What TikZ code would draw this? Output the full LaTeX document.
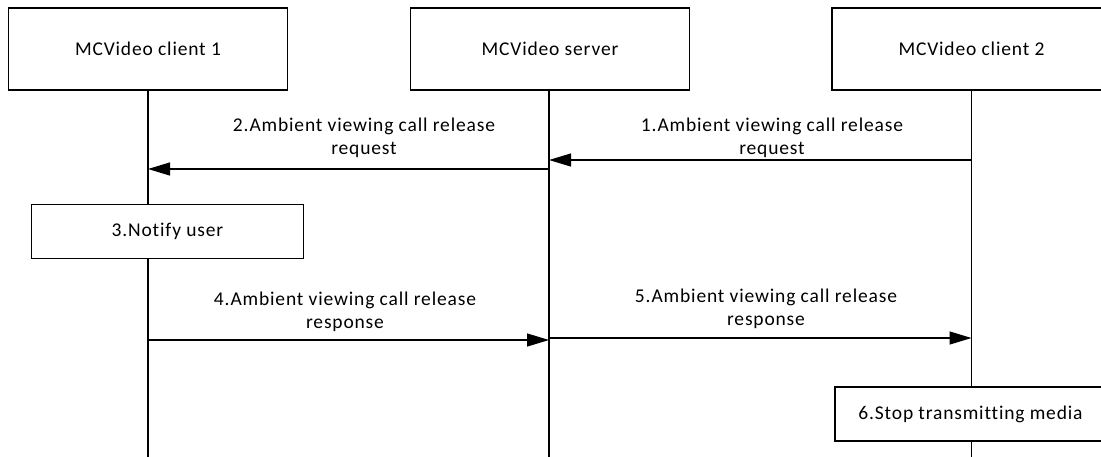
\documentclass[tikz,border=0pt]{standalone}
\usepackage{fontspec}
\setmainfont{Carlito}[Ligatures=NoCommon,LetterSpace=4.3]
\usetikzlibrary{arrows.meta}
\begin{document}
\begin{tikzpicture}[x=1pt,y=-1pt,
  box/.style={draw,line width=1.2pt,rectangle,inner sep=0pt,align=center},
  life/.style={line width=1.2pt},
  msg/.style={line width=1.2pt,-{Triangle[length=22pt,width=13pt]}},
  lbl/.style={align=center,font=\fontsize{19.5}{23}\selectfont},
  every node/.style={font=\fontsize{19.5}{23}\selectfont}]
\useasboundingbox (0,0) rectangle (1101,456);
% header boxes
\node[box,minimum width=279pt,minimum height=82pt] (c1) at (148,49) {MCVideo client 1};
\node[box,minimum width=279pt,minimum height=82pt] (sv) at (550,49) {MCVideo server};
\node[box,minimum width=279pt,minimum height=82pt] (c2) at (971.5,49) {MCVideo client 2};
% lifeline ends
\coordinate (c1e) at (148,470);
\coordinate (sve) at (549,470);
\coordinate (c2e) at (971.5,470);
\draw[life] (c1.south) -- (c1e);
\draw[life] (sv.south -| sve) -- (sve);
\draw[life] (c2.south) -- (c2e);
% action boxes
\node[box,fill=white,minimum width=272pt,minimum height=54pt] (nu) at (167.5,231.5) {3.Notify user};
\node[box,fill=white,minimum width=271pt,minimum height=54pt] (st) at (970.5,414) {6.Stop transmitting media};
% message coordinates
\coordinate (m1s) at (971.5,160);
\coordinate (m1e) at (549,160);
\coordinate (m2s) at (549,169);
\coordinate (m2e) at (148,169);
\coordinate (m4s) at (148,340);
\coordinate (m4e) at (549,340);
\coordinate (m5s) at (549,338);
\coordinate (m5e) at (971.5,338);
\draw[msg] (m1s) -- (m1e);
\draw[msg] (m2s) -- (m2e);
\draw[msg] (m4s) -- (m4e);
\draw[msg] (m5s) -- (m5e);
% labels
\node[lbl] (l1) at (772,137.5) {1.Ambient viewing call release\\request};
\node[lbl] (l2) at (364,137.5) {2.Ambient viewing call release\\request};
\node[lbl] (l4) at (345,311.5) {4.Ambient viewing call release\\response};
\node[lbl] (l5) at (766,308.5) {5.Ambient viewing call release\\response};
\end{tikzpicture}
\end{document}
